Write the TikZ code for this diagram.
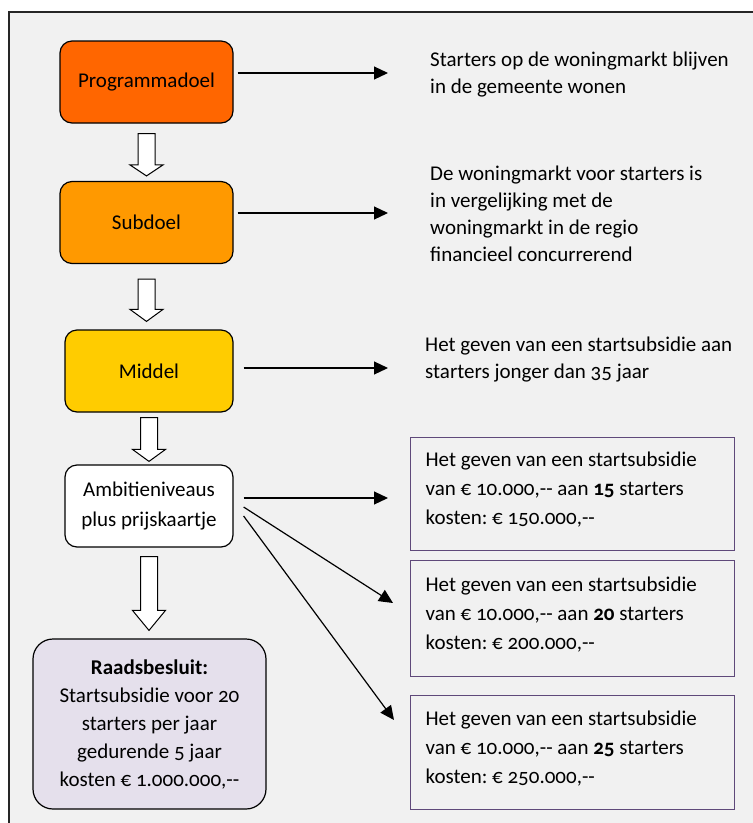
\documentclass[tikz,border=0pt]{standalone}
\usepackage{fontspec}
\setmainfont{Carlito}[Numbers=OldStyle]
\frenchspacing
\usetikzlibrary{arrows.meta,calc}

\definecolor{bggray}{RGB}{241,241,241}
\definecolor{progorange}{RGB}{255,102,0}
\definecolor{suborange}{RGB}{255,153,0}
\definecolor{midyellow}{RGB}{255,204,0}
\definecolor{raadlilac}{RGB}{229,224,236}
\definecolor{optpurple}{RGB}{95,73,122}

\newcommand{\dbl}{-\kern0pt-}
\newcommand{\optpad}{\par\vspace{9pt}}
% block arrow: from, to, gap top, gap bottom, head length
\newcommand{\blockarrow}[5]{%
\draw[blockarr] let \p1=(#1.south), \p2=(#2.north) in
 (\x1-8.5pt,\y1-#3pt) -- (\x1+8.5pt,\y1-#3pt) -- (\x1+8.5pt,\y2+#4pt+#5pt)
 -- (\x1+16.5pt,\y2+#4pt+#5pt) -- (\x1,\y2+#4pt) -- (\x1-16.5pt,\y2+#4pt+#5pt)
 -- (\x1-8.5pt,\y2+#4pt+#5pt) -- cycle;}

\begin{document}
\begin{tikzpicture}[x=1pt,y=-1pt,
  font=\fontsize{21}{27}\selectfont,
  box/.style={draw,line width=1.2pt,rounded corners=12pt,minimum width=173pt,minimum height=82pt,align=center},
  txt/.style={anchor=base west,align=left,inner sep=0pt},
  optbox/.style={draw=optpurple,line width=1.3pt,anchor=north west,minimum width=324pt,
    text width=294pt,inner xsep=15pt,align=flush left,font=\fontsize{21}{29}\selectfont,
    execute at end node=\optpad},
  conn/.style={line width=1.2pt,-{Triangle[length=14pt,width=13pt]}},
  blockarr/.style={draw,line width=1pt,fill=white}]
\useasboundingbox (0,0) rectangle (753,823);
\fill[white] (0,0) rectangle (753,823);
\draw[line width=1.3pt,draw=black!85,fill=bggray] (9,12) rectangle (780,850);

% left column
\node[box,fill=progorange] (prog) at (146.5,82) {Programmadoel};
\node[box,fill=suborange] (sub) at (146.5,222.5) {Subdoel};
\node[box,fill=midyellow,minimum width=168pt] (mid) at (149,371) {Middel};
\node[box,fill=white,minimum width=168pt,font=\fontsize{21}{30}\selectfont] (amb) at (149,506)
  {Ambitieniveaus\\plus prijskaartje};
\node[box,rounded corners=20pt,fill=raadlilac,minimum width=233pt,minimum height=170pt,
  font=\fontsize{21}{28}\selectfont] (raad) at (149.5,724)
  {\textbf{Raadsbesluit:}\\Startsubsidie voor 20\\starters per jaar\\gedurende 5 jaar\\kosten € 1.000.000,\dbl};

\blockarrow{prog}{sub}{10}{5}{11}
\blockarrow{sub}{mid}{15}{8}{12}
\blockarrow{mid}{amb}{5}{3}{12}
\blockarrow{amb}{raad}{9}{8}{20}

% right column (anchored on the last baseline)
\node[txt] (goal) at (430,93) {Starters op de woningmarkt blijven\\in de gemeente wonen};
\node[txt] (subgoal) at (430,261) {De woningmarkt voor starters is\\in vergelijking met de\\woningmarkt in de regio\\financieel concurrerend};
\node[txt] (means) at (425,378) {Het geven van een startsubsidie aan\\starters jonger dan 35 jaar};

\node[optbox,minimum height=113pt] (opt15) at (410,437)
  {Het geven van een startsubsidie\\van € 10.000,\dbl{} aan \textbf{15} starters\\kosten: € 150.000,\dbl};
\node[optbox,minimum height=116pt] (opt20) at (410,560)
  {Het geven van een startsubsidie\\van € 10.000,\dbl{} aan \textbf{20} starters\\kosten: € 200.000,\dbl};
\node[optbox,minimum height=114pt] (opt25) at (410,695)
  {Het geven van een startsubsidie\\van € 10.000,\dbl{} aan \textbf{25} starters\\kosten: € 250.000,\dbl};

\coordinate (tip20) at (393,603);
\coordinate (tip25) at (394,720);

\draw[conn,shorten >=42pt] ([xshift=4pt,yshift=9pt]prog.east) coordinate (a1) -- (a1 -| goal.west);
\draw[conn,shorten >=42pt] ([xshift=4pt,yshift=9.5pt]sub.east) coordinate (a2) -- (a2 -| subgoal.west);
\draw[conn,shorten >=37pt] ([xshift=10pt,yshift=3pt]mid.east) coordinate (a3) -- (a3 -| means.west);
\draw[conn,shorten >=22pt] ([xshift=10pt,yshift=8pt]amb.east) coordinate (a4) -- (a4 -| opt15.west);
\draw[conn] ([xshift=10pt,yshift=-1pt]amb.east) -- (tip20);
\draw[conn] ([xshift=10pt,yshift=-10pt]amb.east) -- (tip25);
\end{tikzpicture}
\end{document}
